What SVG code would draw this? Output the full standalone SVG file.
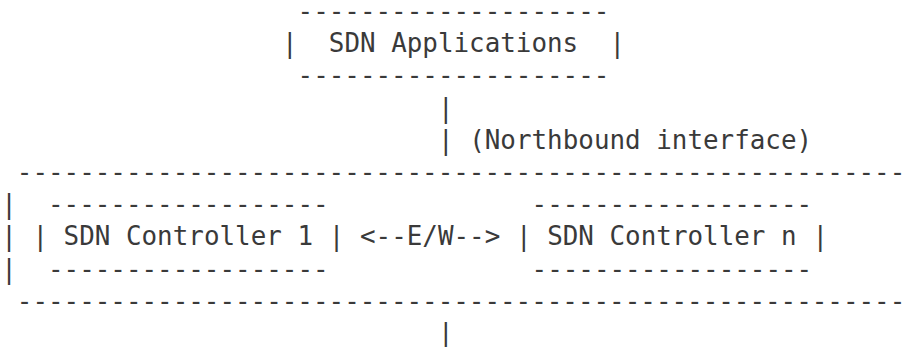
<svg xmlns="http://www.w3.org/2000/svg" width="908" height="347" viewBox="0 0 908 347">
  <style>
    text { font-family: "DejaVu Sans Mono", "Liberation Mono", monospace; font-size: 25.9px; fill: #3a3a3a; white-space: pre; }
  </style>
  <rect width="908" height="347" fill="#ffffff"/>
  <!-- column grid: x = 1.2 + 15.6 * col ; row baseline: y = 20 + 32.2 * row -->
  <g id="sdn-applications">
    <text x="297.6" y="20">--------------------</text>
    <text x="282.0" y="52.2">|</text>
    <text x="328.8" y="52.2">SDN Applications</text>
    <text x="609.6" y="52.2">|</text>
    <text x="297.6" y="84.4">--------------------</text>
  </g>
  <g id="controller-cluster">
    <text x="16.8" y="181">---------------------------------------------------------</text>
    <text x="1.2" y="213.2">|</text>
    <text x="1.2" y="245.4">|</text>
    <text x="1.2" y="277.6">|</text>
    <text x="16.8" y="309.8">---------------------------------------------------------</text>
  </g>
  <g id="sdn-controller-1">
    <text x="48.0" y="213.2">------------------</text>
    <text x="32.4" y="245.4">|</text>
    <text x="63.6" y="245.4">SDN Controller 1</text>
    <text x="328.8" y="245.4">|</text>
    <text x="48.0" y="277.6">------------------</text>
  </g>
  <g id="sdn-controller-n">
    <text x="531.6" y="213.2">------------------</text>
    <text x="516.0" y="245.4">|</text>
    <text x="547.2" y="245.4">SDN Controller n</text>
    <text x="812.4" y="245.4">|</text>
    <text x="531.6" y="277.6">------------------</text>
  </g>
  <g id="connectors">
    <text x="438.0" y="116.6">|</text>
    <text x="438.0" y="148.8">|</text>
    <text x="469.2" y="148.8">(Northbound interface)</text>
    <text x="360.0" y="245.4">&lt;--E/W--&gt;</text>
    <text x="438.0" y="342">|</text>
  </g>
</svg>
